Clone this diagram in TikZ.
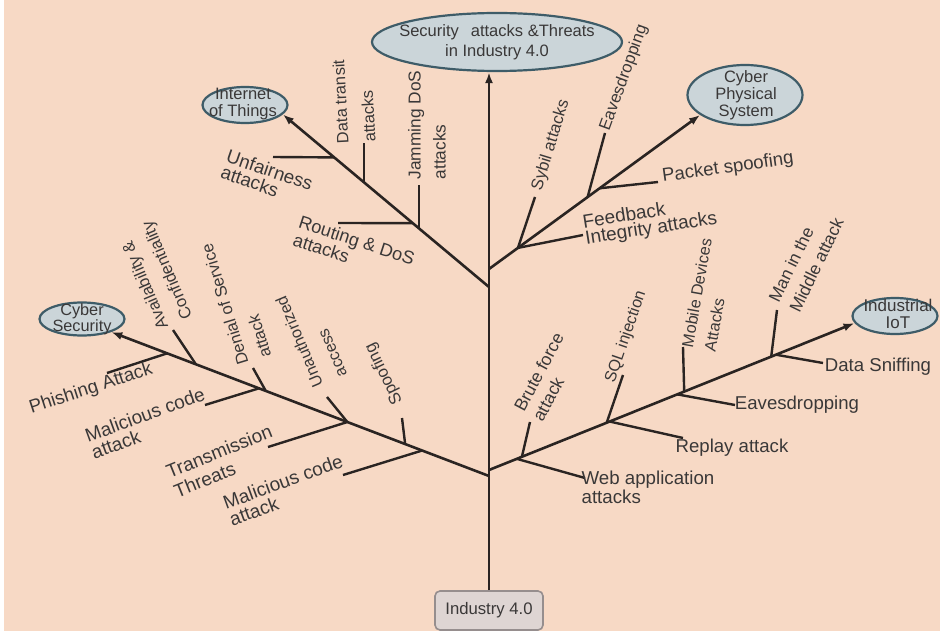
\documentclass[tikz,border=0pt]{standalone}
\usepackage{fontspec}
\setmainfont{Liberation Sans}
\usetikzlibrary{calc,arrows.meta,shapes.geometric}
\definecolor{bgpeach}{RGB}{247,217,197}
\definecolor{ellfill}{RGB}{203,213,217}
\definecolor{elldraw}{RGB}{62,92,104}
\definecolor{inktext}{RGB}{58,56,56}
\definecolor{inkline}{RGB}{42,36,34}
\definecolor{boxfill}{RGB}{222,213,211}
\definecolor{boxdraw}{RGB}{150,142,142}
\newcommand{\lblfont}[2]{\fontsize{#1}{#2}\selectfont}
\begin{document}
\begin{tikzpicture}[x=1pt,y=-1pt,
  lab/.style={text=inktext, inner sep=0pt, align=left},
  flat/.style={lab, font=\lblfont{18.6}{18.5}},
  steep/.style={lab, font=\lblfont{16.7}{23}},
  ell/.style={ellipse, draw=elldraw, fill=ellfill, line width=2.2pt, inner sep=0pt},
  elltext/.style={text=inktext, align=center, inner sep=0pt},
  branch/.style={draw=inkline, line width=2.6pt, -{Latex[length=11pt,width=8pt]}},
  twig/.style={draw=inkline, line width=2.4pt},
]
\useasboundingbox (0,0) rectangle (943,634);
\fill[white] (0,0) rectangle (943,634);
\fill[bgpeach] (4,0) rectangle (940,631);

% ---------- main nodes ----------
\node[ell, minimum width=250pt, minimum height=58pt] (top) at (497,42) {};
\node[elltext, font=\lblfont{16.5}{20}] (toptext) at (497,42) {Security\hspace{12pt}attacks \&Threats\\in Industry 4.0};

\node[ell, minimum width=85pt, minimum height=36pt] (iot) at (245,105) {};
\node[elltext, font=\lblfont{16.5}{17}] (iottext) at (243,104) {Internet\\of Things};

\node[ell, minimum width=115pt, minimum height=60pt] (cps) at (745,95) {};
\node[elltext, font=\lblfont{16.5}{17}] (cpstext) at (746,95) {Cyber\\Physical\\System};

\node[ell, minimum width=85pt, minimum height=33pt] (cs) at (82,319) {};
\node[elltext, font=\lblfont{16.3}{15}] (cstext) at (82,319) {Cyber\\Security};

\node[ell, minimum width=85pt, minimum height=36pt] (iiot) at (895,316) {};
\node[elltext, font=\lblfont{17}{17}] (iiottext) at (898,314) {Industrial\\IoT};

\node[draw=boxdraw, fill=boxfill, line width=1.6pt, rounded corners=5pt,
      minimum width=108pt, minimum height=39pt, inner sep=0pt,
      text=inktext, font=\lblfont{16.7}{18}] (ind) at (489,610.5) {Industry 4.0};

% ---------- trunk ----------
\draw[branch, line width=2.8pt] (ind.north) -- (ind.north |- top.south);

% ---------- branch start points ----------
\coordinate (T1) at (489,287);
\coordinate (T2) at (489,269);
\coordinate (T3) at (489,476);
\coordinate (T4) at (489,470);

\draw[branch] (T1) -- (iot.-14);
\draw[branch] (T2) -- (cps.204);
\draw[branch] (T3) -- (cs.-24);
\draw[branch] (T4) -- (iiot.190);

% ---------- IoT twigs ----------
\coordinate (jUnf) at ($(T1)!0.751!(iot.-14)$);
\coordinate (jTra) at ($(T1)!0.607!(iot.-14)$);
\coordinate (jJam) at ($(T1)!0.341!(iot.-14)$);
\coordinate (jRou) at ($(T1)!0.370!(iot.-14)$);
\coordinate (eUnf) at (273,157);
\coordinate (eTra) at (363,143);
\coordinate (eJam) at (418,185);
\coordinate (eRou) at (338,223);
\draw[twig] (jUnf) -- (eUnf);
\draw[twig] (jTra) -- (jTra |- eTra);
\draw[twig] (jJam) -- (jJam |- eJam);
\draw[twig] (jRou) -- (eRou);

\node[flat, rotate=-19, font=\lblfont{18.8}{17}] (lUnf) at (267,178) {Unfairness\\attacks};
\node[steep, rotate=93, font=\lblfont{16.4}{27}] (lTra) at (354,101) {Data transit\\attacks};
\node[steep, rotate=90, font=\lblfont{17.3}{25}] (lJam) at (427,125) {Jamming DoS\\attacks};
\node[flat, rotate=-18, font=\lblfont{18.2}{18.5}] (lRou) at (354,249) {Routing \& DoS\\attacks};

% ---------- CPS twigs ----------
\coordinate (jSyb) at ($(T2)!0.137!(cps.204)$);
\coordinate (jEav) at ($(T2)!0.467!(cps.204)$);
\coordinate (jPac) at ($(T2)!0.524!(cps.204)$);
\coordinate (eSyb) at (535,197);
\coordinate (eFee) at (583,235);
\coordinate (eEav) at (605,133);
\coordinate (ePac) at (658,182);
\draw[twig] (jSyb) -- (eSyb);
\draw[twig] (jSyb) -- (eFee);
\draw[twig] (jEav) -- (eEav);
\draw[twig] (jPac) -- (ePac);

\node[steep, rotate=73] (lSyb) at (551,145) {Sybil attacks};
\node[flat, rotate=9, font=\lblfont{19}{16.5}] (lFee) at (650,221) {Feedback\\Integrity attacks};
\node[steep, rotate=70] (lEav1) at (624,78) {Eavesdropping};
\node[flat, rotate=8] (lPac) at (728,168) {Packet spoofing};

% ---------- Cyber Security twigs ----------
\coordinate (jAva) at ($(T3)!0.776!(cs.-24)$);
\coordinate (jPhi) at ($(T3)!0.852!(cs.-24)$);
\coordinate (jDen) at ($(T3)!0.591!(cs.-24)$);
\coordinate (jMa1) at ($(T3)!0.609!(cs.-24)$);
\coordinate (jUna) at ($(T3)!0.375!(cs.-24)$);
\coordinate (jSpo) at ($(T3)!0.222!(cs.-24)$);
\coordinate (jMa2) at ($(T3)!0.177!(cs.-24)$);
\coordinate (eAva) at (173,330);
\coordinate (ePhi) at (107,373);
\coordinate (eDen) at (253,368);
\coordinate (eMa1) at (205,405);
\coordinate (eUna) at (327,397);
\coordinate (eTrn) at (268,447);
\coordinate (eSpo) at (402,418);
\coordinate (eMa2) at (343,475);
\draw[twig] (jAva) -- (eAva);
\draw[twig] (jPhi) -- (ePhi);
\draw[twig] (jDen) -- (eDen);
\draw[twig] (jMa1) -- (eMa1);
\draw[twig] (jUna) -- (eUna);
\draw[twig] (jUna) -- (eTrn);
\draw[twig] (jSpo) -- (eSpo);
\draw[twig] (jMa2) -- (eMa2);

\node[steep, rotate=113, font=\lblfont{16.6}{26}] (lAva) at (156,275) {Availability \&\\Confidentiality};
\node[flat, rotate=18] (lPhi) at (91,389) {Phishing Attack};
\node[steep, rotate=107, font=\lblfont{16.6}{24}] (lDen) at (236,301) {Denial of Service\\attack};
\node[flat, rotate=20, font=\lblfont{19}{18}] (lMa1) at (148,423) {Malicious code\\attack};
\node[steep, rotate=113, font=\lblfont{16.3}{26}] (lUna) at (311,337) {Unauthorized\\access};
\node[flat, rotate=22, font=\lblfont{19}{21}] (lTrn) at (223,461) {Transmission\\Threats};
\node[steep, rotate=116] (lSpo) at (384,374) {Spoofing};
\node[flat, rotate=20, font=\lblfont{19}{18}] (lMa2) at (286,490) {Malicious code\\attack};

% ---------- Industrial IoT twigs ----------
\coordinate (jBru) at ($(T4)!0.090!(iiot.190)$);
\coordinate (jWeb) at ($(T4)!0.076!(iiot.190)$);
\coordinate (jSQL) at ($(T4)!0.322!(iiot.190)$);
\coordinate (jRep) at ($(T4)!0.330!(iiot.190)$);
\coordinate (jMob) at ($(T4)!0.534!(iiot.190)$);
\coordinate (jEa2) at ($(T4)!0.515!(iiot.190)$);
\coordinate (jMan) at ($(T4)!0.772!(iiot.190)$);
\coordinate (jSni) at ($(T4)!0.785!(iiot.190)$);
\coordinate (eBru) at (530,422);
\coordinate (eWeb) at (585,478);
\coordinate (eSQL) at (623,375);
\coordinate (eRep) at (683,438);
\coordinate (eMob) at (683,347);
\coordinate (eEa2) at (735,405);
\coordinate (eMan) at (777,310);
\coordinate (eSni) at (823,363);
\draw[twig] (jBru) -- (eBru);
\draw[twig] (jWeb) -- (eWeb);
\draw[twig] (jSQL) -- (eSQL);
\draw[twig] (jRep) -- (eRep);
\draw[twig] (jMob) -- (eMob);
\draw[twig] (jEa2) -- (eEa2);
\draw[twig] (jMan) -- (eMan);
\draw[twig] (jSni) -- (eSni);

\node[steep, rotate=62, font=\lblfont{17.5}{21}] (lBru) at (548,377) {Brute force\\attack};
\node[flat, font=\lblfont{18.7}{19}] (lWeb) at (648,487) {Web application\\attacks};
\node[steep, rotate=71, font=\lblfont{16.2}{23}] (lSQL) at (626,337) {SQL injection};
\node[flat] (lRep) at (732,448) {Replay attack};
\node[steep, rotate=80, font=\lblfont{16.2}{23}] (lMob) at (708,295) {Mobile Devices\\Attacks};
\node[flat] (lEa2) at (797,405) {Eavesdropping};
\node[steep, rotate=64, font=\lblfont{17.3}{23}] (lMan) at (806,260) {Man in the\\Middle attack};
\node[flat] (lSni) at (878,367) {Data Sniffing};
\end{tikzpicture}
\end{document}
